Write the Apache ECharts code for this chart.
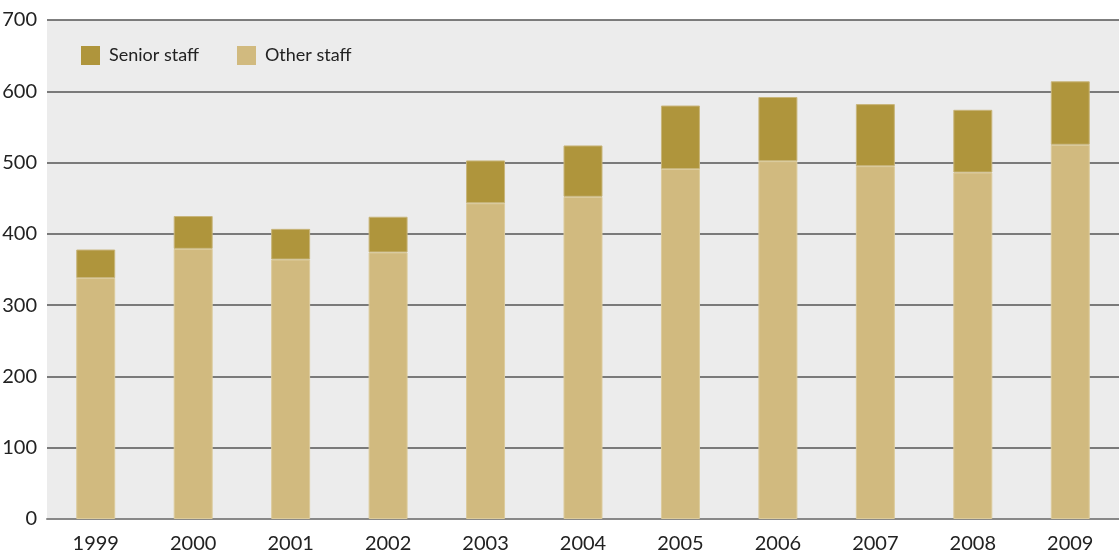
<!DOCTYPE html>
<html><head><meta charset="utf-8">
<script src="https://cdn.jsdelivr.net/npm/echarts@6/dist/echarts.min.js"></script>
<style>html,body{margin:0;padding:0;background:#fff}#c{width:1119px;height:553px}</style>
</head><body><div id="c"></div>
<script>
const years = ['1999','2000','2001','2002','2003','2004','2005','2006','2007','2008','2009'];
const otherStaff = [338,379,364,374,443,452,491,502,495,486,525];
const seniorStaff = [40,46,43,50,60,72,89,90,87,88,89];
const chart = echarts.init(document.getElementById('c'));
chart.setOption({
  animation:false,
  textStyle:{fontFamily:'Lato'},
  grid:{left:47,right:0,top:20,bottom:34,show:true,backgroundColor:'#ececec',borderWidth:0,
    outerBoundsMode:'none',containLabel:false},
  legend:{left:81,top:46,padding:0,itemWidth:19,itemHeight:19,itemGap:38,icon:'rect',
    itemStyle:{borderWidth:0},
    data:['Senior staff','Other staff'],
    textStyle:{fontSize:18,color:'#222',fontFamily:'Lato',padding:[0,0,0,4]}},
  xAxis:{type:'category',data:years,
    axisLine:{lineStyle:{color:'#888',width:2}},axisTick:{show:false},
    axisLabel:{fontSize:20,color:'#222',margin:15}},
  yAxis:{type:'value',min:0,max:700,interval:100,
    axisLine:{show:false},axisTick:{show:false},
    axisLabel:{fontSize:20,color:'#222',margin:10},
    splitLine:{lineStyle:{color:'#555',width:1.5}}},
  series:[
    {name:'Other staff',type:'bar',stack:'s',data:otherStaff,barWidth:'40%',
      itemStyle:{color:'#d1ba7f',borderColor:'#dccb9c',borderWidth:1},z:3},
    {name:'Senior staff',type:'bar',stack:'s',data:seniorStaff,barWidth:'40%',
      itemStyle:{color:'#af953c',borderColor:'#c8b57a',borderWidth:1},z:3}
  ]
});
</script></body></html>
